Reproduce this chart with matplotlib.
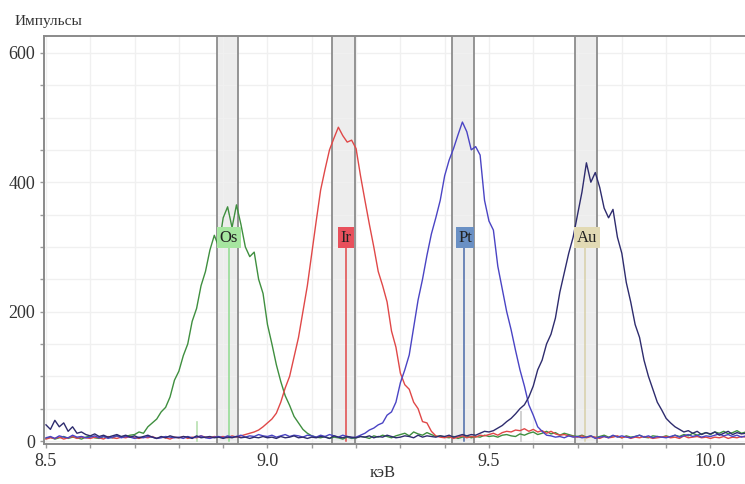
import numpy as np
import matplotlib.pyplot as plt
from matplotlib.ticker import MultipleLocator

plt.rcParams['font.family'] = ['Liberation Serif', 'DejaVu Serif']

# energy axis, keV (0.01 keV channels)
e_start = 8.50
e_step = 0.01
n_chan = 159
energy = e_start + e_step * np.arange(n_chan)

# counts per channel
os_counts = [4, 6, 3, 5, 7, 4, 6, 5, 3, 6,
             8, 5, 4, 7, 6, 5, 8, 6, 7, 9,
             10, 14, 12, 22, 28, 34, 45, 52, 68, 94,
             108, 132, 150, 185, 205, 240, 262, 295, 318, 300,
             345, 362, 330, 365, 335, 300, 285, 292, 250, 228,
             180, 150, 118, 92, 70, 55, 38, 28, 18, 12,
             8, 6, 5, 7, 4, 6, 5, 3, 6, 4,
             5, 7, 6, 4, 8, 6, 9, 7, 5, 8,
             10, 12, 8, 14, 11, 9, 13, 10, 7, 8,
             6, 5, 7, 4, 6, 8, 5, 7, 6, 9,
             7, 8, 6, 9, 10, 8, 7, 11, 9, 12,
             14, 10, 12, 15, 11, 13, 9, 12, 10, 8,
             7, 9, 6, 8, 5, 7, 9, 6, 8, 7,
             5, 8, 6, 7, 9, 6, 5, 8, 7, 6,
             8, 6, 9, 7, 10, 8, 12, 9, 11, 13,
             10, 14, 12, 15, 11, 13, 16, 12, 14]

ir_counts = [3, 5, 4, 6, 3, 5, 7, 4, 6, 5,
             4, 6, 5, 3, 7, 5, 4, 6, 5, 7,
             5, 4, 6, 5, 7, 4, 6, 5, 3, 6,
             5, 7, 4, 6, 5, 8, 6, 5, 7, 6,
             7, 5, 8, 6, 8, 10, 12, 14, 17, 22,
             28, 34, 43, 60, 82, 100, 130, 160, 200, 240,
             290, 340, 388, 420, 450, 468, 485, 472, 462, 465,
             452, 410, 372, 335, 300, 262, 240, 215, 170, 145,
             105, 87, 80, 60, 50, 30, 28, 15, 8, 6,
             5, 7, 4, 6, 8, 5, 7, 6, 9, 8,
             10, 12, 9, 13, 15, 14, 17, 16, 19, 15,
             18, 14, 16, 12, 15, 11, 9, 10, 8, 7,
             6, 8, 5, 7, 6, 4, 7, 5, 6, 8,
             5, 7, 4, 6, 5, 7, 6, 4, 5, 6,
             7, 5, 6, 4, 8, 5, 6, 7, 5, 6,
             4, 6, 5, 7, 4, 6, 5, 7, 6]

pt_counts = [5, 7, 4, 8, 6, 5, 9, 6, 7, 5,
             6, 8, 5, 7, 4, 6, 8, 5, 7, 6,
             4, 6, 5, 7, 6, 4, 5, 7, 6, 5,
             6, 4, 7, 5, 6, 8, 5, 4, 6, 7,
             5, 8, 6, 7, 9, 6, 8, 7, 10, 8,
             7, 9, 6, 8, 10, 7, 9, 8, 6, 9,
             8, 6, 9, 7, 10, 8, 6, 9, 7, 5,
             6, 9, 12, 17, 20, 25, 28, 40, 45, 60,
             90, 110, 133, 175, 218, 250, 287, 320, 345, 372,
             410, 434, 452, 473, 493, 478, 450, 455, 442, 372,
             340, 326, 270, 235, 200, 172, 140, 110, 85, 56,
             40, 22, 15, 9, 8, 6, 7, 5, 8, 6,
             7, 5, 6, 8, 4, 6, 7, 5, 9, 6,
             8, 6, 5, 7, 9, 6, 8, 5, 7, 6,
             5, 7, 9, 6, 8, 10, 7, 9, 6, 8,
             7, 9, 11, 8, 10, 7, 9, 6, 8]

au_counts = [25, 18, 32, 22, 28, 15, 22, 12, 14, 10,
             8, 11, 7, 9, 6, 8, 10, 7, 9, 6,
             8, 5, 7, 9, 6, 4, 7, 5, 8, 6,
             5, 7, 6, 4, 8, 5, 6, 7, 5, 6,
             4, 6, 5, 7, 5, 6, 4, 6, 5, 7,
             5, 6, 4, 7, 5, 6, 8, 5, 6, 4,
             6, 5, 7, 6, 4, 8, 6, 5, 7, 6,
             5, 7, 6, 8, 5, 7, 6, 9, 7, 5,
             6, 8, 7, 5, 9, 6, 8, 7, 6, 8,
             7, 9, 6, 8, 10, 8, 10, 9, 12, 15,
             14, 16, 20, 24, 30, 35, 42, 50, 56, 68,
             85, 110, 125, 150, 165, 190, 230, 260, 290, 315,
             350, 385, 430, 400, 415, 392, 360, 345, 358, 315,
             290, 245, 215, 180, 160, 125, 100, 80, 60, 48,
             35, 28, 22, 18, 14, 16, 12, 15, 10, 13,
             11, 14, 9, 12, 15, 10, 13, 11, 12]

# element markers
elements = ['Os', 'Ir', 'Pt', 'Au']
line_e = [8.913, 9.177, 9.443, 9.717]
band_lo = [8.886, 9.146, 9.416, 9.694]
band_hi = [8.933, 9.198, 9.466, 9.744]
label_x = [8.913, 9.177, 9.446, 9.721]
label_y = 314

curve_colors = ['#3f8f3f', '#e04848', '#4a44c4', '#2e2c6e']
line_colors = ['#8edc8e', '#e04848', '#4a6aa8', '#d8d0a8']
box_colors = ['#a6e6a0', '#e8505c', '#6a90c4', '#e2dab4']

fig = plt.figure(figsize=(7.45, 4.84), dpi=100)
ax = fig.add_axes([44 / 745, 40 / 484, 1 - 44 / 745, 408 / 484])

ax.set_xlim(8.4955, 10.078)
ax.set_ylim(-4.6, 626)

ax.xaxis.set_major_locator(MultipleLocator(0.5))
ax.xaxis.set_minor_locator(MultipleLocator(0.1))
ax.yaxis.set_major_locator(MultipleLocator(200))
ax.yaxis.set_minor_locator(MultipleLocator(50))
ax.xaxis.set_major_formatter(plt.FuncFormatter(lambda v, p: f'{v:.1f}'))
ax.grid(True, which='both', color='#f0f0f0', lw=1.0, zorder=0)

# shaded windows
for i in range(len(elements)):
    ax.axvspan(band_lo[i], band_hi[i], color='#e4e4e4', alpha=0.65, lw=0, zorder=1)
    ax.axvline(band_lo[i], color='#8c8c8c', lw=1.3, zorder=2)
    ax.axvline(band_hi[i], color='#8c8c8c', lw=1.3, zorder=2)
    ax.plot([line_e[i], line_e[i]], [0, label_y - 12], color=line_colors[i], lw=1.1, zorder=3)

# small escape markers
ax.plot([8.84, 8.84], [0, 30], color='#b8e0b0', lw=1.2, zorder=3)
ax.plot([9.572, 9.572], [0, 45], color='#d0d0d0', lw=1.4, zorder=3)

series = [os_counts, ir_counts, pt_counts, au_counts]
for i in range(len(series)):
    ax.plot(energy, series[i], color=curve_colors[i], lw=1.0, zorder=4)

for i in range(len(elements)):
    ax.text(label_x[i], label_y, elements[i], ha='center', va='center', fontsize=12,
            color='#222222', zorder=6,
            bbox=dict(boxstyle='square,pad=0.15', fc=box_colors[i], ec='none'))

for side in ['left', 'top', 'bottom']:
    ax.spines[side].set_color('#8a8a8a')
    ax.spines[side].set_linewidth(1.4)
ax.spines['right'].set_visible(False)

ax.tick_params(which='both', colors='#9a9a9a', labelcolor='#333333', labelsize=13,
               length=3, width=1)

fig.text(15 / 745, 1 - 21 / 484, 'Импульсы', fontsize=11, color='#333333', va='center', ha='left')
fig.text(383 / 745, 1 - 473 / 484, 'кэВ', fontsize=12, color='#333333', va='center', ha='center')

fig.savefig('out.png', dpi=100)
